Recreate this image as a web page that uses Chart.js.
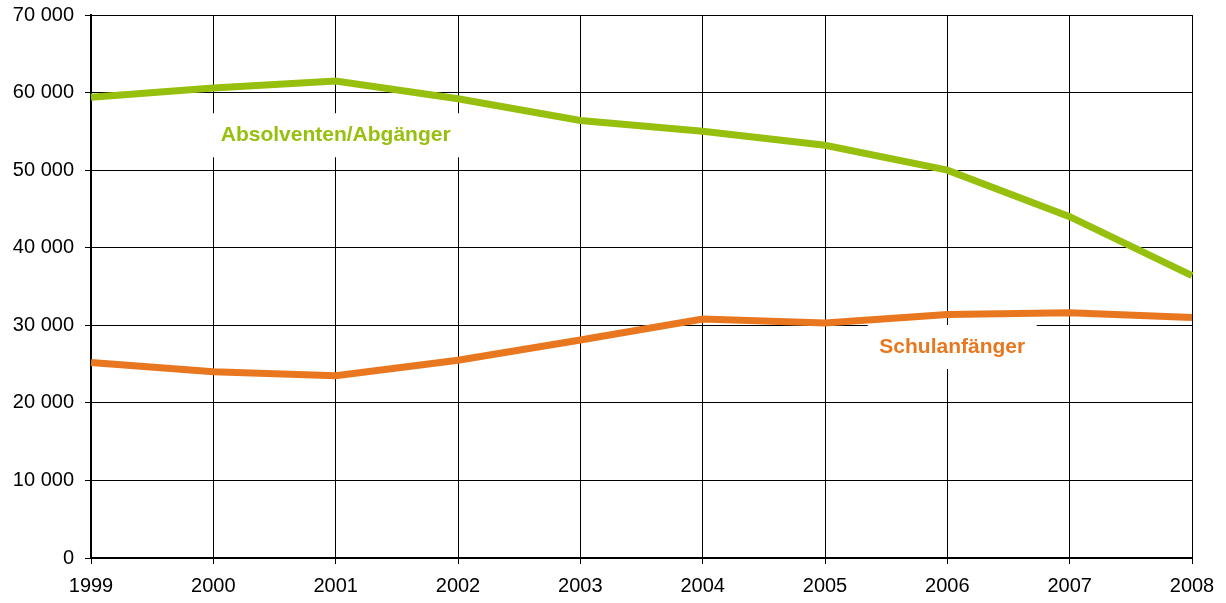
<!DOCTYPE html>
<html>
<head>
<meta charset="utf-8">
<script src="https://cdn.jsdelivr.net/npm/chart.js@4"></script>
<style>
  html, body { margin: 0; padding: 0; background: #fff; }
  #wrap { width: 1226px; height: 603px; }
</style>
</head>
<body>
<div id="wrap"><canvas id="grafico" width="1226" height="603"></canvas></div>
<script>
// Jahre und Werte
const jahre = ['1999', '2000', '2001', '2002', '2003', '2004', '2005', '2006', '2007', '2008'];
const absolventen = [59400, 60600, 61500, 59200, 56400, 55000, 53200, 50000, 44000, 36400];
const schulanfaenger = [25200, 24000, 23500, 25500, 28100, 30800, 30300, 31400, 31600, 31000];
const yTicks = [0, 10000, 20000, 30000, 40000, 50000, 60000, 70000];

const gruen = '#97bf0d';
const orange = '#e8771f';

// Beschriftungen der Linien mit weissem Hintergrund
const beschriftungen = [
    { text: 'Absolventen/Abgänger', x: 2, y: 54500, color: gruen, w: 250 },
    { text: 'Schulanfänger', x: 7.04, y: 27200, color: orange, w: 169 }
];

const labelPlugin = {
    id: 'labelPlugin',
    beforeDatasetsDraw(chart) {
        const c = chart.ctx;
        const xs = chart.scales.x, ys = chart.scales.y;
        c.save();
        c.font = 'bold 21px "Liberation Sans", Arial, sans-serif';
        c.textAlign = 'center';
        c.textBaseline = 'middle';
        beschriftungen.forEach(function (b) {
            const px = xs.getPixelForValue(b.x);
            const py = ys.getPixelForValue(b.y);
            c.fillStyle = '#fff';
            c.fillRect(px - b.w / 2, py - 22, b.w, 44);
            c.fillStyle = b.color;
            c.fillText(b.text, px, py);
        });
        c.restore();
    }
};

const ctx = document.getElementById('grafico');

new Chart(ctx, {
    type: 'line',
    data: {
        labels: jahre,
        datasets: [{
            label: 'Absolventen/Abgänger',
            data: absolventen,
            borderColor: gruen,
            borderWidth: 7,
            pointRadius: 0,
            tension: 0
        }, {
            label: 'Schulanfänger',
            data: schulanfaenger,
            borderColor: orange,
            borderWidth: 7,
            pointRadius: 0,
            tension: 0
        }]
    },
    options: {
        responsive: false,
        animation: false,
        layout: { padding: { top: 15, right: 34, left: 0, bottom: 0 } },
        plugins: { legend: { display: false }, tooltip: { enabled: false } },
        scales: {
            x: {
                offset: false,
                grid: { color: '#000', lineWidth: 1, tickLength: 6 },
                border: { color: '#000', width: 2 },
                ticks: {
                    color: '#000',
                    font: { size: 20, family: '"Liberation Sans", Arial, sans-serif' },
                    maxRotation: 0,
                    padding: 10
                },
                afterFit(scale) {
                    scale.height = 45;
                    scale.paddingLeft = 0;
                    scale.paddingRight = 0;
                }
            },
            y: {
                min: 0,
                max: 70000,
                afterBuildTicks(scale) { scale.ticks = yTicks.map(v => ({ value: v })); },
                grid: { color: '#000', lineWidth: 1, tickLength: 6 },
                border: { color: '#000', width: 2 },
                ticks: {
                    color: '#000',
                    font: { size: 20, family: '"Liberation Sans", Arial, sans-serif' },
                    padding: 11,
                    callback: v => v === 0 ? '0' : (v / 1000) + ' 000'
                },
                afterFit(scale) {
                    scale.width = 91;
                    scale.paddingTop = 0;
                    scale.paddingBottom = 0;
                }
            }
        }
    },
    plugins: [labelPlugin]
});
</script>
</body>
</html>
